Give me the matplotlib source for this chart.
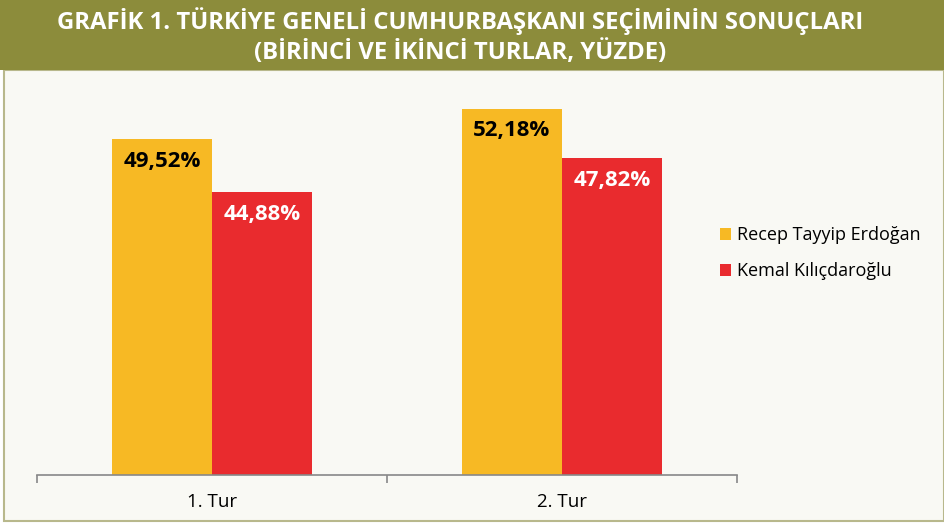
import matplotlib
matplotlib.use("Agg")
import matplotlib.pyplot as plt
from matplotlib.patches import Rectangle
import numpy as np

categories = ["1. Tur", "2. Tur"]
series_names = ["Recep Tayyip Erdoğan", "Kemal Kılıçdaroğlu"]
erdogan = [49.52, 52.18]
kilicdaroglu = [44.88, 47.82]
colors = ["#F7B924", "#E92B2E"]
title = "GRAFİK 1. TÜRKİYE GENELİ CUMHURBAŞKANI SEÇİMİNİN SONUÇLARI\n(BİRİNCİ VE İKİNCİ TURLAR, YÜZDE)"

W, H = 944, 525
fig = plt.figure(figsize=(W/100, H/100), dpi=100)
fig.patch.set_facecolor("white")

# chart area background and border
fig.patches.append(Rectangle((4/W, 4/H), (W-4)/W, (H-70-4)/H, transform=fig.transFigure,
                             facecolor="#F9F9F4", edgecolor="#B8B88C", linewidth=1.5, zorder=-2))
# banner
fig.patches.append(Rectangle((0, (H-70)/H), 1, 70/H, transform=fig.transFigure,
                             facecolor="#8C8C3B", edgecolor="none", zorder=-1))
fig.text(0.487, 1-36/H, title, ha="center", va="center", color="white",
         fontsize=17.2, fontweight="bold", family=["Open Sans", "DejaVu Sans"],
         linespacing=1.25, zorder=3)

ax_left, ax_right = 37, 737
ax_bottom, ax_top = 475, 75
ax = fig.add_axes([ax_left/W, (H-ax_bottom)/H, (ax_right-ax_left)/W, (ax_bottom-ax_top)/H])
ax.set_zorder(5)
ax.set_facecolor("none")
k = 11.38
ymin = 20
ax.set_ylim(ymin, ymin + (ax_bottom-ax_top)/k)
ax.set_xlim(-0.5, 1.5)

x = np.arange(len(categories))
bw = 100/350
b1 = ax.bar(x - bw/2, erdogan, bw, color=colors[0], label=series_names[0], zorder=2)
b2 = ax.bar(x + bw/2, kilicdaroglu, bw, color=colors[1], label=series_names[1], zorder=2)

lab_off = 1.95
for rect, v in zip(b1, erdogan):
    ax.text(rect.get_x()+rect.get_width()/2, v - lab_off, f"{v:.2f}%".replace(".", ","),
            ha="center", va="center", fontsize=16, fontweight="bold", color="black",
            family=["Open Sans", "DejaVu Sans"])
for rect, v in zip(b2, kilicdaroglu):
    ax.text(rect.get_x()+rect.get_width()/2, v - lab_off, f"{v:.2f}%".replace(".", ","),
            ha="center", va="center", fontsize=16, fontweight="bold", color="white",
            family=["Open Sans", "DejaVu Sans"])

for s in ["top", "right", "left"]:
    ax.spines[s].set_visible(False)
ax.spines["bottom"].set_color("#888888")
ax.spines["bottom"].set_linewidth(1.2)
ax.set_yticks([])
ax.set_xticks([-0.5, 0.5, 1.5])
ax.set_xticklabels([])
ax.tick_params(axis="x", direction="out", length=6, color="#888888", width=1.2)
for xi, c in zip(x, categories):
    ax.text(xi, -27/(ax_bottom-ax_top), c, transform=ax.get_xaxis_transform(),
            ha="center", va="center", fontsize=13.5, family=["Open Sans", "DejaVu Sans"])

leg = fig.legend(handles=[b1, b2], labels=series_names, loc="upper left",
                 bbox_to_anchor=(704/W, 1-210/H), frameon=False,
                 handlelength=0.6, handleheight=0.6, handletextpad=0.35,
                 labelspacing=1.0, prop={"family": ["Open Sans", "DejaVu Sans"], "size": 13})

fig.savefig("out.png", dpi=100)
